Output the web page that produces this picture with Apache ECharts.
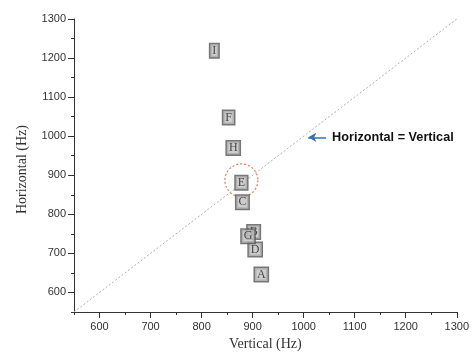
<!DOCTYPE html>
<html>
<head>
<meta charset="utf-8">
<script src="https://cdn.jsdelivr.net/npm/echarts@6/dist/echarts.min.js"></script>
<style>
  html, body { margin: 0; padding: 0; background: #fff; }
  #chart { width: 472px; height: 357px; }
</style>
</head>
<body>
<div id="chart"></div>
<script>
// sample labels and their measured frequencies
const labels = ['A', 'B', 'C', 'D', 'E', 'F', 'G', 'H', 'I'];
const vertical = [917, 902, 880, 905, 878, 853, 891, 862, 825];
const horizontal = [646, 755, 831, 710, 881, 1048, 744, 970, 1219];

// reference line Horizontal = Vertical
const diagX = [550, 1300];
const diagY = [550, 1300];

// highlight circle around E
const circleCenter = [878, 887];

// annotation arrow (head, tail) and its text
const arrowHead = [1009, 997];
const arrowTail = [1044, 997];
const noteText = 'Horizontal = Vertical';

const axisMin = 550;
const axisMax = 1300;
const majorTicks = [600, 700, 800, 900, 1000, 1100, 1200, 1300];
const minorStep = 50;

const points = labels.map((name, i) => ({ name: name, value: [vertical[i], horizontal[i]] }));
// draw B before G so G sits on top
const order = ['A', 'D', 'B', 'G', 'C', 'E', 'H', 'F', 'I'];
points.sort((a, b) => order.indexOf(a.name) - order.indexOf(b.name));

const chart = echarts.init(document.getElementById('chart'));

const nameFont = {
  color: '#333',
  fontSize: 14,
  fontFamily: 'Liberation Serif, Times New Roman, serif'
};

// main axis: line, long ticks and labels at the hundreds
function mainAxis(name, gap, pad, margin) {
  return {
    type: 'value',
    min: axisMin,
    max: axisMax,
    interval: minorStep,
    name: name,
    nameLocation: 'middle',
    nameGap: gap,
    nameTextStyle: Object.assign({}, nameFont, { padding: pad }),
    splitLine: { show: false },
    axisLine: { show: true, onZero: false, lineStyle: { color: '#333', width: 1 } },
    axisTick: { show: true, length: 6, lineStyle: { color: '#333' }, customValues: majorTicks },
    axisLabel: {
      color: '#333',
      fontSize: 11,
      fontFamily: 'Liberation Sans, Arial, sans-serif',
      margin: margin,
      customValues: majorTicks,
      formatter: (v) => String(v)
    }
  };
}

// helper axis: only the short ticks every 50 Hz
function minorAxis(position) {
  return {
    type: 'value',
    position: position,
    min: axisMin,
    max: axisMax,
    interval: minorStep,
    splitLine: { show: false },
    axisLine: { show: false, onZero: false },
    axisTick: { show: true, length: 3, lineStyle: { color: '#333' } },
    axisLabel: { show: false }
  };
}

const option = {
  animation: false,
  grid: { left: 74, right: 15, top: 19, bottom: 45 },
  xAxis: [
    Object.assign(mainAxis('Vertical (Hz)', 24, [0, 0, 0, 0], 9), { position: 'bottom' }),
    minorAxis('bottom')
  ],
  yAxis: [
    Object.assign(mainAxis('Horizontal (Hz)', 45, [0, 8, 0, 0], 8), { position: 'left' }),
    minorAxis('left')
  ],
  series: [
    {
      type: 'line',
      data: [[diagX[0], diagY[0]], [diagX[1], diagY[1]]],
      symbol: 'none',
      silent: true,
      lineStyle: { color: '#b0b0b0', width: 1, type: [2, 2] },
      z: 1
    },
    {
      type: 'scatter',
      data: [circleCenter],
      symbol: 'circle',
      symbolSize: 33,
      silent: true,
      itemStyle: { color: 'rgba(0,0,0,0)', borderColor: '#e8553c', borderWidth: 1.2, borderType: [2, 2] },
      z: 2
    },
    {
      type: 'scatter',
      data: points,
      symbolSize: 1,
      itemStyle: { color: 'rgba(0,0,0,0)' },
      label: {
        show: true,
        position: 'inside',
        formatter: '{b}',
        color: '#222',
        fontSize: 12,
        fontFamily: 'Liberation Serif, Times New Roman, serif',
        backgroundColor: '#c0c0c0',
        borderColor: '#555',
        borderWidth: 1.5,
        padding: [1, 2, 0, 2]
      },
      z: 3
    },
    {
      type: 'line',
      data: [],
      markLine: {
        silent: true,
        symbol: ['arrow', 'none'],
        symbolSize: [7, 8],
        lineStyle: { color: '#3b6fb6', width: 1.5, type: 'solid' },
        label: {
          show: true,
          position: 'end',
          formatter: noteText,
          color: '#111',
          fontSize: 12.7,
          fontWeight: 'bold',
          fontFamily: 'Liberation Sans, Arial, sans-serif',
          distance: 6
        },
        data: [[{ coord: arrowHead }, { coord: arrowTail }]]
      }
    }
  ]
};

chart.setOption(option);
</script>
</body>
</html>
